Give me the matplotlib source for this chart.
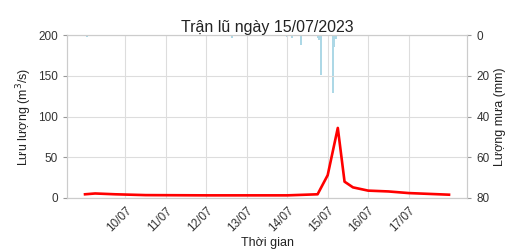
import numpy as np
import pandas as pd
import matplotlib
matplotlib.use('Agg')
import matplotlib.pyplot as plt
import matplotlib.dates as mdates

plt.rcParams['font.family'] = ['Liberation Sans', 'DejaVu Sans']

# Flow (m3/s)
flow_time = pd.to_datetime([
    '2023-07-09 00:00', '2023-07-09 06:00', '2023-07-09 18:00', '2023-07-10 12:00',
    '2023-07-12 00:00', '2023-07-14 00:00', '2023-07-14 18:00', '2023-07-15 00:00',
    '2023-07-15 06:00', '2023-07-15 10:00', '2023-07-15 15:00', '2023-07-16 00:00',
    '2023-07-16 12:00', '2023-07-17 00:00', '2023-07-17 12:00', '2023-07-18 00:00'])
flow = [4.5, 5.5, 4.5, 3.5, 3.2, 3.2, 4.5, 28, 86, 20, 13, 9, 8, 6, 5, 4]

# Rainfall (mm)
rain_time = pd.to_datetime([
    '2023-07-09 01:00', '2023-07-10 22:00', '2023-07-12 15:00', '2023-07-13 20:00',
    '2023-07-14 00:00', '2023-07-14 03:00', '2023-07-14 08:00', '2023-07-14 18:00',
    '2023-07-14 19:00', '2023-07-14 20:00', '2023-07-15 03:00', '2023-07-15 04:00',
    '2023-07-15 05:00', '2023-07-15 13:00'])
rain = [0.8, 0.6, 1.2, 0.6, 0.8, 1.2, 5, 1.5, 2.5, 19.5, 28.5, 6, 2, 0.6]

fig, ax = plt.subplots(figsize=(5.14, 2.49), dpi=100)
fig.subplots_adjust(left=0.130, right=0.909, top=0.859, bottom=0.205)

ax.plot(flow_time, flow, color='red', lw=1.9, zorder=3)
ax.set_ylim(0, 200)
ax.set_yticks([0, 50, 100, 150, 200])
ax.set_ylabel('Lưu lượng (m$^3$/s)', fontsize=9, labelpad=3, color='#222222')
ax.set_xlabel('Thời gian', fontsize=9, labelpad=2, color='#222222')
ax.set_title('Trận lũ ngày 15/07/2023', fontsize=11.5, pad=2, color='#222222')

ax2 = ax.twinx()
ax2.bar(rain_time, rain, width=1/20, color='lightblue', zorder=2)
ax2.set_ylim(80, 0)
ax2.set_yticks([0, 20, 40, 60, 80])
ax2.set_ylabel('Lượng mưa (mm)', fontsize=9, labelpad=3, color='#222222')

ax.xaxis.set_major_locator(mdates.DayLocator(bymonthday=range(10, 18)))
ax.xaxis.set_major_formatter(mdates.DateFormatter('%d/%m'))

ax.grid(True, color='#dddddd', lw=0.8)
ax.set_axisbelow(True)
for a in (ax, ax2):
    for s in a.spines.values():
        s.set_color('#cccccc')
        s.set_linewidth(0.8)
    a.tick_params(labelsize=8.5, colors='#333333', length=3, width=0.8)
    a.tick_params(axis='both', color='#999999')
ax.tick_params(axis='x', length=0, pad=5)
for lab in ax.get_xticklabels():
    lab.set_rotation(45)
    lab.set_ha('right')
    lab.set_rotation_mode('anchor')
ax.set_zorder(ax2.get_zorder() + 1)
ax.patch.set_visible(False)

fig.savefig('out.png', dpi=100)
